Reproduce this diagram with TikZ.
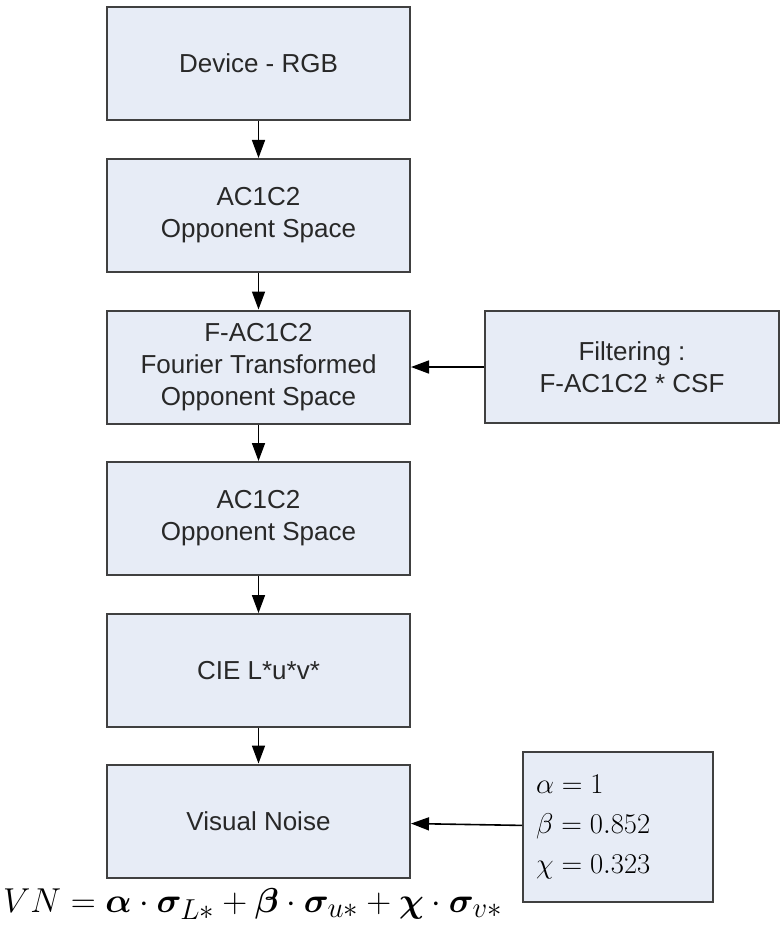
\documentclass[tikz,border=0pt]{standalone}
\usepackage{amsmath}
\usepackage{bm}
\usepackage{fontspec}
\newfontfamily\boxfont{Liberation Sans}
\usetikzlibrary{arrows.meta}
\definecolor{boxfill}{RGB}{231,236,246}
\definecolor{boxline}{RGB}{64,64,64}
\definecolor{boxtext}{RGB}{40,40,40}
\tikzset{%
  flow arrow/.style={
    -{Triangle[length=18pt,width=13pt]},
    line width=1.6pt,
    draw=black
  },
}

\begin{document}
\begin{tikzpicture}[x=1pt,y=-1pt]
    		\tikzstyle{stage}=[draw=boxline,fill=boxfill,line width=2pt,minimum width=303pt,minimum height=113pt,align=center,text=boxtext,font=\boxfont\fontsize{26}{32}\selectfont]
    		\useasboundingbox (0,0) rectangle (781,933);
    		\node[stage](rgb) at (258.5,63.5){Device - RGB};
    		\node[stage](opp) at (258.5,215.5){AC1C2\\Opponent Space};
    		\node[stage](fopp) at (258.5,367){F-AC1C2\\Fourier Transformed\\Opponent Space};
    		\node[stage](opp2) at (258.5,518.5){AC1C2\\Opponent Space};
    		\node[stage](luv) at (258.5,670.5){CIE L*u*v*};
    		\node[stage](vn) at (258.5,821){Visual Noise};
    		\node[stage,minimum width=294pt,minimum height=112pt](csf) at (632,367){Filtering :\\F-AC1C2 * CSF};
    		\node[stage,minimum width=190pt,minimum height=150pt,text width=164pt,align=left,text=black,font=\fontsize{24.88}{40}\selectfont](par) at (618,827){\scalebox{1.15}{$\alpha = 1$}\\\scalebox{1.15}{$\beta = 0.852$}\\\scalebox{1.15}{$\chi = 0.323$}};
    		\node[anchor=base west,inner sep=0pt,font=\fontsize{24.88}{30}\selectfont](eq) at (3,912){\scalebox{1.39}{$VN = \bm{\alpha}\cdot\bm{\sigma}_{L*} + \bm{\beta}\cdot\bm{\sigma}_{u*} + \bm{\chi}\cdot\bm{\sigma}_{v*}$}};
		    % main chain
		    \draw[flow arrow] (rgb) -- (opp);
		    \draw[flow arrow] (opp) -- (fopp);
		    \draw[flow arrow] (fopp) -- (opp2);
		    \draw[flow arrow] (opp2) -- (luv);
		    \draw[flow arrow] (luv) -- (vn);
		    % side inputs
		    \draw[flow arrow] (csf) -- (fopp);
		    \draw[flow arrow] (par) -- (vn);
        \end{tikzpicture}
\end{document}
